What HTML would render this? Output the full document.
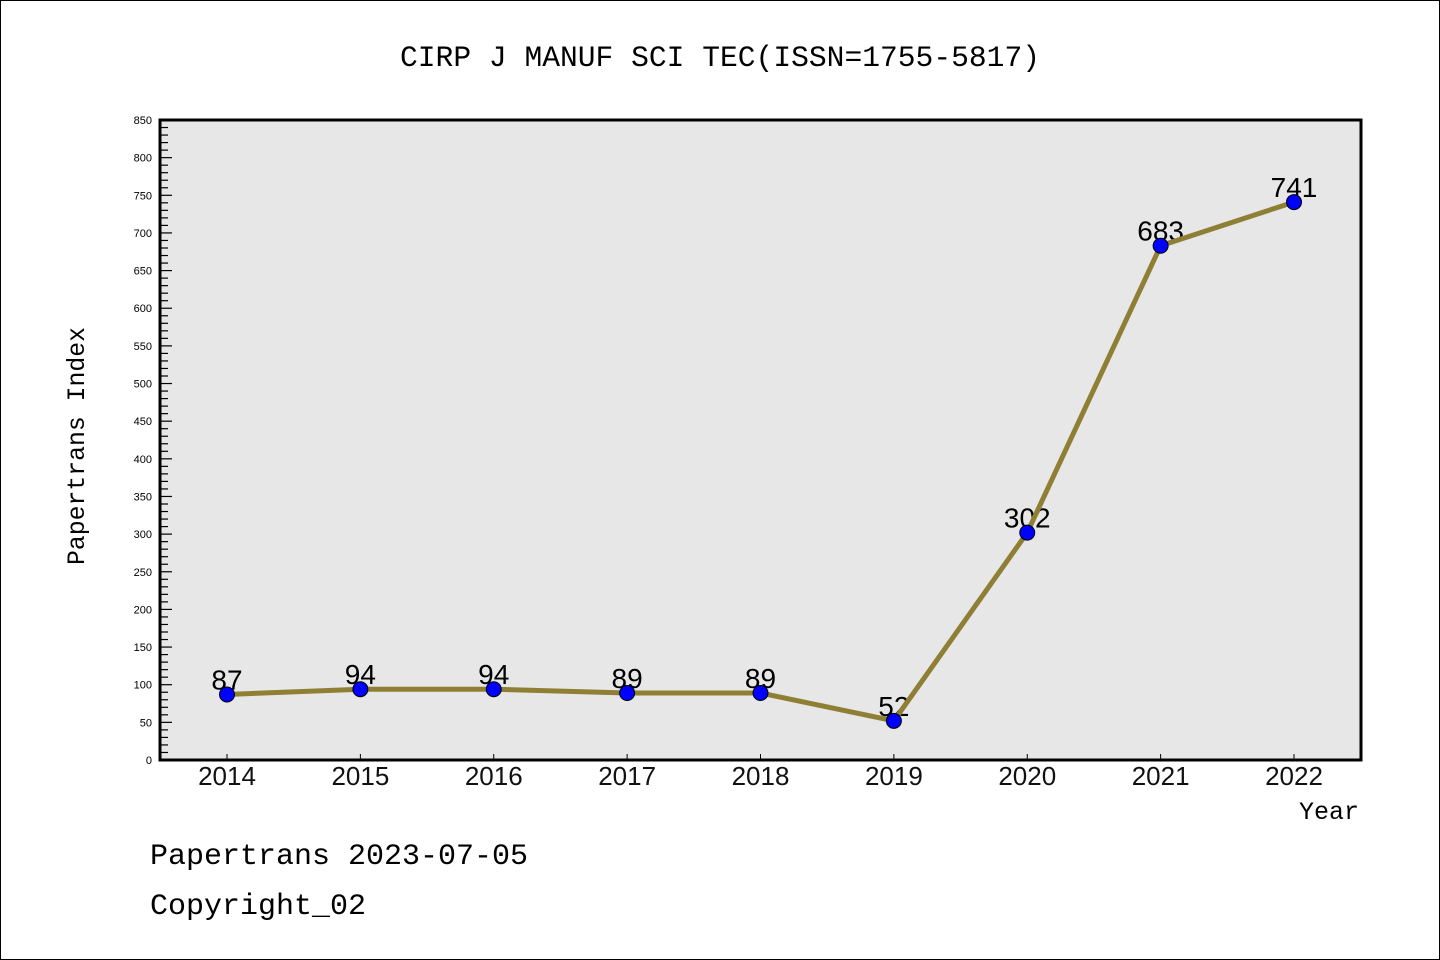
<!DOCTYPE html>
<html><head><meta charset="utf-8"><style>
html,body{margin:0;padding:0;background:#fff}
svg{display:block}
</style></head><body>
<svg id="chart" width="1440" height="960" xmlns="http://www.w3.org/2000/svg">
<rect x="0.5" y="0.5" width="1439" height="959" fill="#fff" stroke="#000" stroke-width="1"/>
<text x="400" y="66" textLength="640" lengthAdjust="spacingAndGlyphs" font-family="Liberation Mono, monospace" font-size="30" fill="#000">CIRP J MANUF SCI TEC(ISSN=1755-5817)</text>
<rect x="160" y="120" width="1201" height="640" fill="#e7e7e7"/>
<g id="yaxis"></g>
<g id="xaxis"></g>
<g id="series"></g>
<rect x="160" y="120" width="1201" height="640" fill="none" stroke="#000" stroke-width="3"/>
<text transform="translate(84,446) rotate(-90)" text-anchor="middle" textLength="238" lengthAdjust="spacingAndGlyphs" font-family="Liberation Mono, monospace" font-size="25" fill="#000">Papertrans Index</text>
<text x="1359" y="819" text-anchor="end" font-family="Liberation Mono, monospace" font-size="25" fill="#000">Year</text>
<text x="150" y="864" font-family="Liberation Mono, monospace" font-size="30" fill="#000">Papertrans 2023-07-05</text>
<text x="150" y="914" font-family="Liberation Mono, monospace" font-size="30" fill="#000">Copyright_02</text>
</svg>
<script>
const years = ["2014","2015","2016","2017","2018","2019","2020","2021","2022"];
const values = [87,94,94,89,89,52,302,683,741];
const yTicks = [0,50,100,150,200,250,300,350,400,450,500,550,600,650,700,750,800,850];
const yMax = 850;
const NS = "http://www.w3.org/2000/svg";
const L = 160, R = 1361, T = 120, B = 760;
const x0 = 227, dx = (1294 - 227) / 8;
function xs(i){ return x0 + i * dx; }
function ys(v){ return B - (v / yMax) * (B - T); }
function mk(tag, attrs, parent){
  const e = document.createElementNS(NS, tag);
  for (const k in attrs) e.setAttribute(k, attrs[k]);
  parent.appendChild(e); return e;
}
const ya = document.getElementById('yaxis');
for (let v = 0; v <= yMax; v += 10) {
  const major = v % 50 === 0;
  const t = mk('line', {x1:L, x2:L + (major ? 12 : 8), y1:ys(v), y2:ys(v), stroke:'#000', 'stroke-width':1.2}, ya);
  
  
}
yTicks.forEach(v => {
  const t = mk('text', {x:152, y:ys(v) + 4, 'text-anchor':'end', 'font-family':'Liberation Sans, sans-serif', 'font-size':11, fill:'#000'}, ya);
  t.textContent = v;
  
  
});
const xa = document.getElementById('xaxis');
years.forEach((y, i) => {
  const tk = mk('line', {x1:xs(i), x2:xs(i), y1:B, y2:B - 6, stroke:'#000', 'stroke-width':1}, xa);
  
  
  const t = mk('text', {x:xs(i), y:785, 'text-anchor':'middle', 'font-family':'Liberation Sans, sans-serif', 'font-size':26, fill:'#111'}, xa);
  t.textContent = y;
  
  
});
const sg = document.getElementById('series');
values.forEach((v, i) => {
  const t = mk('text', {x:xs(i), y:ys(v) - 5, 'text-anchor':'middle', 'font-family':'Liberation Sans, sans-serif', 'font-size':28, fill:'#000'}, sg);
  t.textContent = v;
  
  
});
const line = mk('polyline', {points: values.map((v, i) => xs(i) + ',' + ys(v)).join(' '), fill:'none', stroke:'#8f7f35', 'stroke-width':5, 'stroke-linejoin':'round'}, sg);


values.forEach((v, i) => {
  const c = mk('circle', {cx:xs(i), cy:ys(v), r:7.5, fill:'#0000ff', stroke:'#000', 'stroke-width':1}, sg);
  
  
});
</script>
</body></html>
